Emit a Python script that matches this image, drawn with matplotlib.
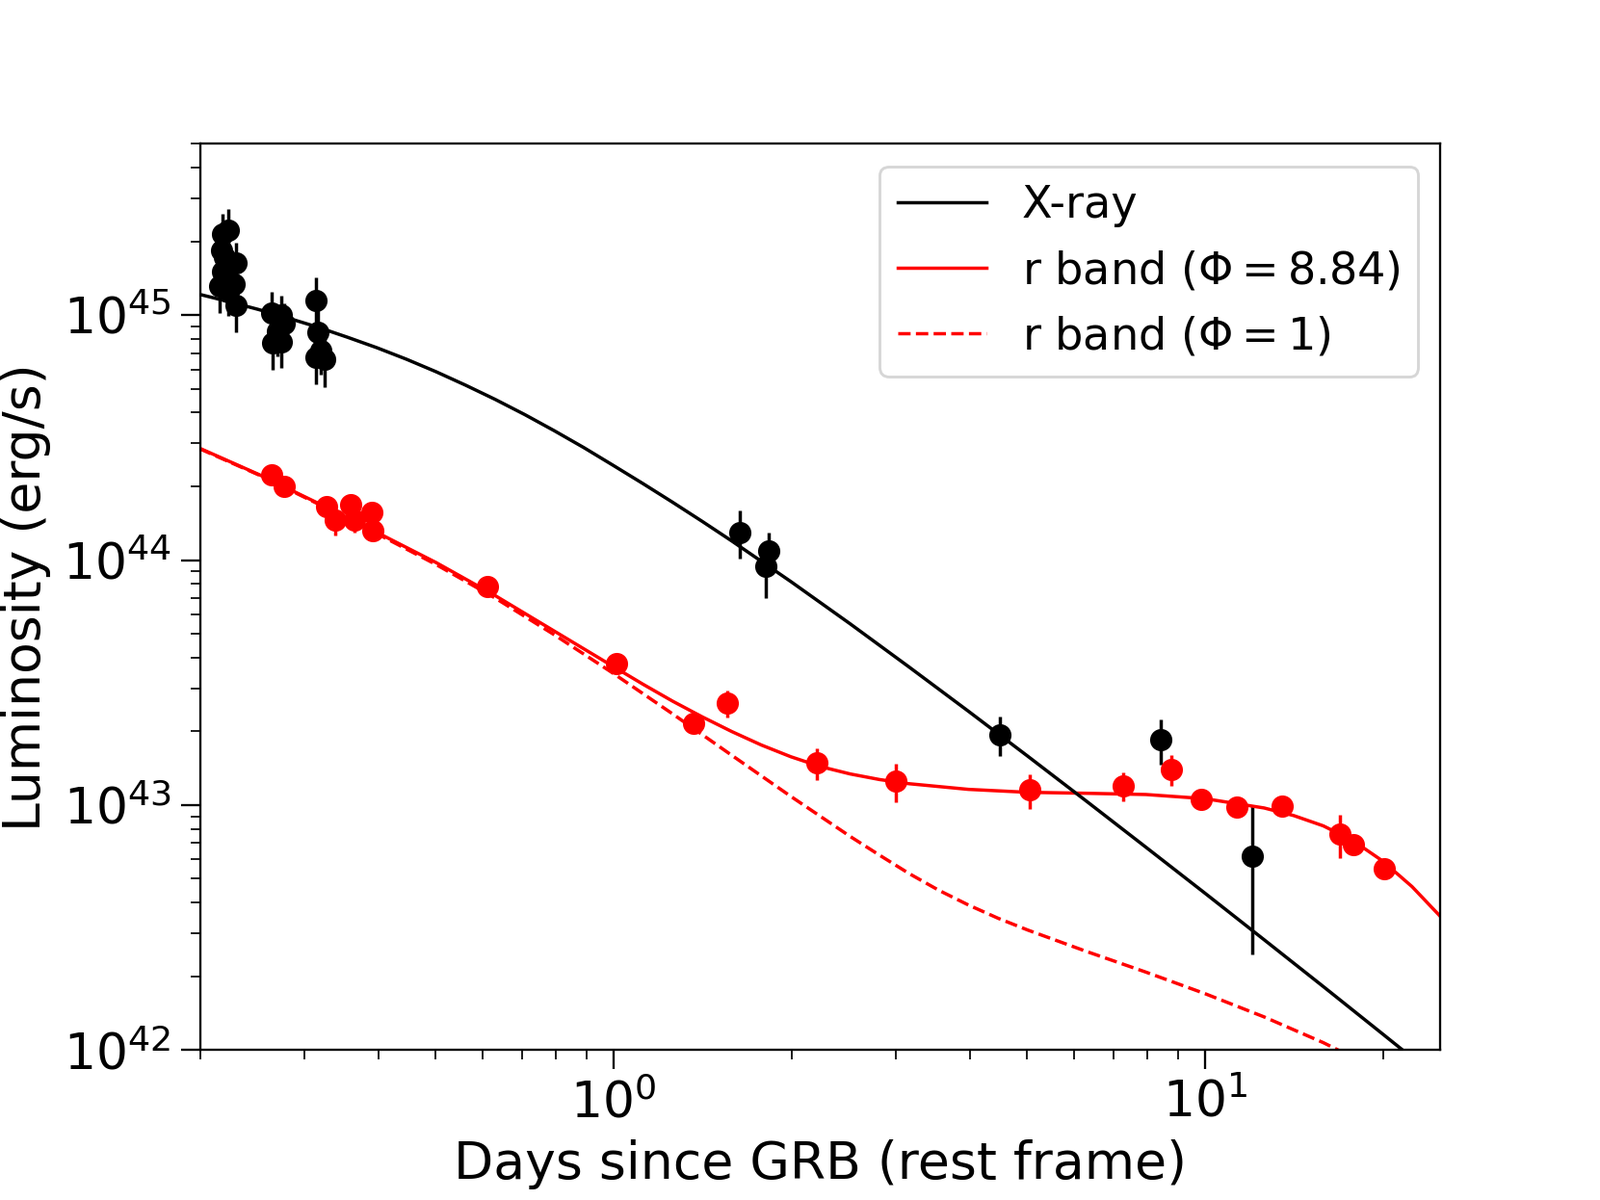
import numpy as np
import matplotlib
matplotlib.use("Agg")
import matplotlib.pyplot as plt

# X-ray data (rest-frame days, erg/s)
xray_t = [0.2183, 0.2230, 0.2175, 0.2202, 0.2300, 0.2183, 0.2286, 0.2161, 0.2230, 0.2300,
          0.2641, 0.2742, 0.2776, 0.2700, 0.2650, 0.2742,
          0.3145, 0.3165, 0.3205, 0.3145, 0.3245,
          1.632, 1.829, 1.810, 4.506, 8.43, 12.04]
xray_L = [2.14e45, 2.22e45, 1.84e45, 1.73e45, 1.63e45, 1.51e45, 1.34e45, 1.32e45, 1.24e45, 1.10e45,
          1.02e45, 1.00e45, 9.2e44, 8.6e44, 7.7e44, 7.8e44,
          1.15e45, 8.5e44, 7.2e44, 6.7e44, 6.6e44,
          1.30e44, 1.09e44, 9.4e43, 1.94e43, 1.85e43, 6.2e42]
xray_err = [4.5e44, 5.0e44, 4.0e44, 3.5e44, 3.5e44, 3.0e44, 3.0e44, 3.0e44, 2.5e44, 2.5e44,
            2.2e44, 2.0e44, 2.0e44, 1.8e44, 1.7e44, 1.7e44,
            2.7e44, 2.0e44, 1.5e44, 1.5e44, 1.5e44,
            2.9e43, 2.1e43, 2.4e43, 3.5e42, 3.9e42, 3.75e42]

# r band data
r_t = [0.2641, 0.2776, 0.3278, 0.3383, 0.3592, 0.3648, 0.3898, 0.3915, 0.6124, 1.01,
       1.367, 1.558, 2.21, 3.0, 5.06, 7.26, 8.76, 9.85, 11.31, 13.48, 16.88, 17.85, 20.07]
r_L = [2.22e44, 2.0e44, 1.65e44, 1.46e44, 1.69e44, 1.46e44, 1.57e44, 1.32e44, 7.8e43, 3.77e43,
       2.15e43, 2.61e43, 1.49e43, 1.25e43, 1.15e43, 1.195e43, 1.40e43, 1.056e43, 9.8e42, 9.9e42,
       7.6e42, 6.9e42, 5.5e42]
r_err = [8e42, 8e42, 8e42, 2.0e43, 1.7e43, 1.6e43, 6e42, 6e42, 3e42, 1.5e42,
         1.0e42, 3.3e42, 2.2e42, 2.2e42, 1.9e42, 1.6e42, 2.0e42, 4e41, 7e41, 9e41,
         1.5e42, 3e41, 4e41]

# model curves (log10 t, log10 L)
xray_model_logt = [-0.7, -0.65, -0.6, -0.55, -0.5, -0.45, -0.4, -0.35, -0.3, -0.25, -0.2,
                   -0.15, -0.1, -0.05, 0.0, 0.05, 0.1, 0.15, 0.2, 0.3, 0.4,
                   0.5, 0.6, 0.7, 0.8, 0.9, 1.0, 1.1, 1.2, 1.3, 1.4]
xray_model_logL = [45.085, 45.055, 45.023, 44.988, 44.951, 44.910, 44.867, 44.820, 44.769,
                   44.714, 44.656, 44.594, 44.528, 44.459, 44.386, 44.312, 44.236, 44.158,
                   44.078, 43.912, 43.740, 43.563, 43.383, 43.200, 43.015, 42.828, 42.640,
                   42.450, 42.259, 42.066, 41.872]

rfit_logt = [-0.7, -0.6, -0.5, -0.4, -0.3, -0.2, -0.1, 0.0, 0.05, 0.1, 0.15, 0.2, 0.25, 0.3,
             0.35, 0.4, 0.45, 0.5, 0.6, 0.7, 0.8, 0.9, 1.0, 1.1, 1.15, 1.2, 1.25, 1.3, 1.35, 1.398]
rfit_logL = [44.457, 44.350, 44.233, 44.113, 43.990, 43.855, 43.710, 43.565, 43.493, 43.424,
             43.360, 43.300, 43.245, 43.197, 43.157, 43.127, 43.104, 43.087, 43.064, 43.052,
             43.048, 43.043, 43.026, 42.988, 42.957, 42.915, 42.855, 42.772, 42.667, 42.545]

rphi1_logt = [-0.7, -0.6, -0.5, -0.4, -0.3, -0.2, -0.1, 0.0, 0.1, 0.2, 0.3, 0.4, 0.45, 0.5,
              0.55, 0.6, 0.65, 0.7, 0.8, 0.9, 1.0, 1.1, 1.2, 1.25]
rphi1_logL = [44.455, 44.348, 44.230, 44.108, 43.982, 43.845, 43.695, 43.537, 43.372, 43.203,
              43.035, 42.872, 42.795, 42.720, 42.652, 42.592, 42.538, 42.490, 42.402, 42.318,
              42.230, 42.135, 42.030, 41.970]

fig, ax = plt.subplots(figsize=(8, 6))
fig.subplots_adjust(bottom=0.125)

ax.errorbar(xray_t, xray_L, yerr=xray_err, fmt='o', color='black', ms=7, elinewidth=1.2)
ax.errorbar(r_t, r_L, yerr=r_err, fmt='o', color='red', ms=7, elinewidth=1.2)

ax.plot(10**np.array(rfit_logt), 10**np.array(rfit_logL), color='red', lw=1.2,
        label=r'r band ($\Phi = 8.84$)')
ax.plot(10**np.array(rphi1_logt), 10**np.array(rphi1_logL), color='red', lw=1.2, ls='--',
        label=r'r band ($\Phi = 1$)')
ax.plot(10**np.array(xray_model_logt), 10**np.array(xray_model_logL), color='black', lw=1.2,
        label='X-ray')

ax.set_xscale('log')
ax.set_yscale('log')
ax.set_xlim(0.2, 25)
ax.set_ylim(1e42, 5e45)

ax.tick_params(which='major', labelsize=18, length=7)
ax.tick_params(which='minor', length=3.5)
ax.set_xlabel('Days since GRB (rest frame)', fontsize=18.6)
ax.set_ylabel('Luminosity (erg/s)', fontsize=18.6)

h, l = ax.get_legend_handles_labels()
ax.legend([h[2], h[0], h[1]], [l[2], l[0], l[1]], loc='upper right', fontsize=16)

fig.savefig('out.png', dpi=207.68)
